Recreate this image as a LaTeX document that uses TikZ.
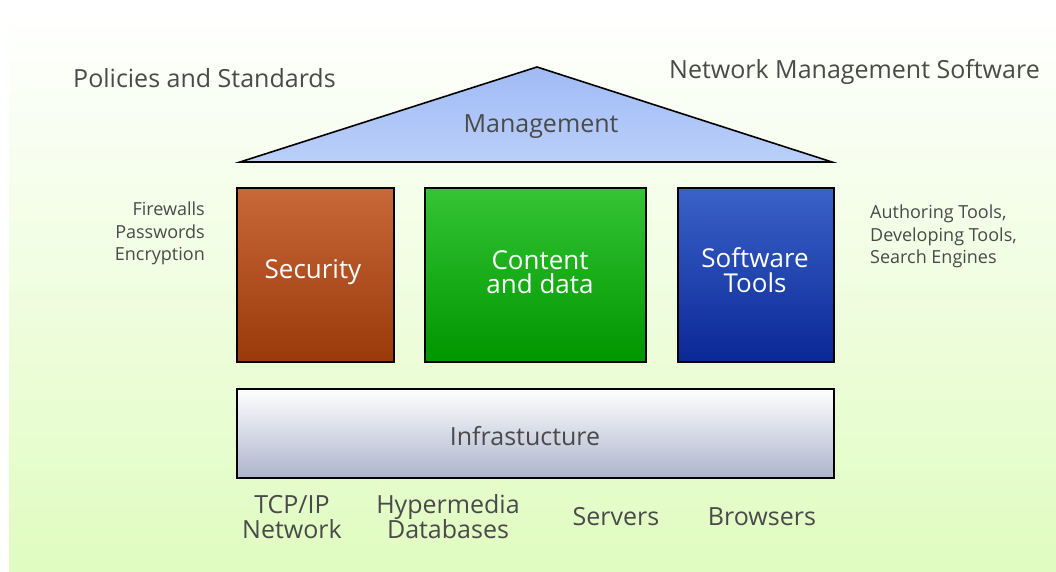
\documentclass[tikz,border=0pt]{standalone}
\usepackage{fontspec}
\setmainfont{Open Sans}
\usetikzlibrary{shapes.geometric}
\definecolor{txt}{HTML}{4A4A4A}
\tikzset{
  lbl/.style={text=txt, font=\fontsize{25}{25}\selectfont, inner sep=0pt},
  small/.style={text=txt, font=\fontsize{18}{22.5}\selectfont, inner sep=0pt},
  boxtext/.style={text=white, font=\fontsize{26}{24.5}\selectfont, align=center, inner sep=0pt},
  pillar/.style={draw=black, line width=1.6pt},
}
\begin{document}
\begin{tikzpicture}[x=1pt,y=-1pt]
\useasboundingbox (0,0) rectangle (1056,572);
\fill[top color=white!98!green!2, bottom color={rgb,255:red,224;green,252;blue,192}] (9,13) rectangle (1056,572);
% roof
\coordinate (apex) at (537,67);
\coordinate (bl) at (240,162);
\coordinate (br) at (832,162);
\shade[top color={rgb,255:red,160;green,186;blue,245}, bottom color={rgb,255:red,186;green,208;blue,250}] (apex) -- (br) -- (bl) -- cycle;
\draw[line width=1.6pt, line join=miter] (apex) -- (br) -- (bl) -- cycle;
\node[lbl] (mgmt) at (541,127) {Management};
% pillars
\shade[top color={rgb,255:red,200;green,104;blue,56}, bottom color={rgb,255:red,154;green,58;blue,10}] (237,188) rectangle (394,362);
\draw[pillar] (237,188) rectangle (394,362);
\node[boxtext] (sec) at (313,272) {Security};
\shade[top color={rgb,255:red,52;green,196;blue,52}, bottom color={rgb,255:red,0;green,150;blue,0}] (425,188) rectangle (646,362);
\draw[pillar] (425,188) rectangle (646,362);
\node[boxtext] (cont) at (540,272) {Content\\and data};
\shade[top color={rgb,255:red,58;green,98;blue,200}, bottom color={rgb,255:red,10;green,40;blue,150}] (678,188) rectangle (834,362);
\draw[pillar] (678,188) rectangle (834,362);
\node[boxtext] (soft) at (755,270) {Software\\Tools};
% base
\shade[top color=white, bottom color={rgb,255:red,172;green,180;blue,204}] (237,389) rectangle (834,478);
\draw[pillar] (237,389) rectangle (834,478);
\node[lbl] (infra) at (525,436) {Infrastucture};
% bottom labels
\node[lbl, align=center] (tcp) at (292,517) {TCP/IP\\Network};
\node[lbl, align=center] (hyp) at (448,517) {Hypermedia\\Databases};
\node[lbl] (serv) at (616,517) {Servers};
\node[lbl] (brow) at (762,517) {Browsers};
% top labels
\node[lbl, anchor=west] (pol) at (73,78) {Policies and Standards};
\node[lbl, anchor=east] (nms) at (1040,72) {Network Management Software};
% side labels
\node[small, align=right, anchor=north east] (fw) at (205,202) {Firewalls\\Passwords\\Encryption};
\node[small, align=left, anchor=north west] (auth) at (870,205) {Authoring Tools,\\Developing Tools,\\Search Engines};
\end{tikzpicture}
\end{document}
